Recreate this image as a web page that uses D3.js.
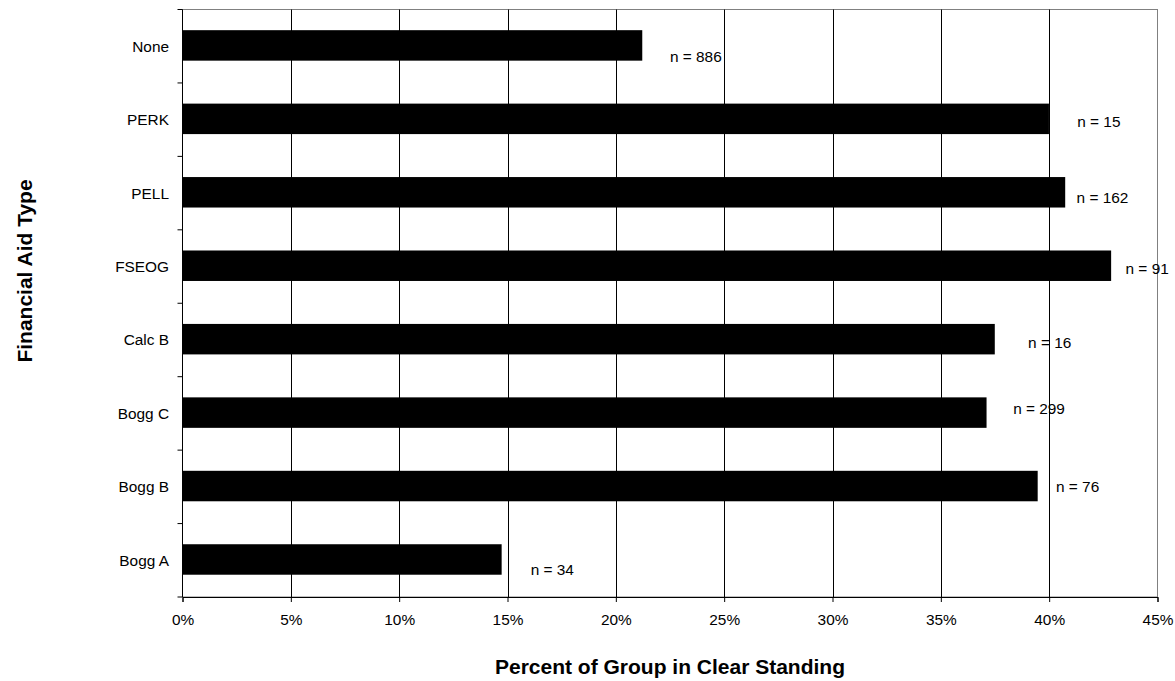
<!DOCTYPE html>
<html>
<head>
<meta charset="utf-8">
<script src="https://cdn.jsdelivr.net/npm/d3@7"></script>
<style>
  html, body { margin: 0; padding: 0; background: #fff; }
  svg { display: block; font-family: "Liberation Sans", Arial, sans-serif; }
</style>
</head>
<body>
<svg id="chart" width="1175" height="681"></svg>
<script>
// ---- data ----
const categories = ["None", "PERK", "PELL", "FSEOG", "Calc B", "Bogg C", "Bogg B", "Bogg A"];
const values = [0.2122, 0.3999, 0.4074, 0.4286, 0.3749, 0.3711, 0.3947, 0.1473];
const labels = ["n = 886", "n = 15", "n = 162", "n = 91", "n = 16", "n = 299", "n = 76", "n = 34"];
const xTicks = [0, 0.05, 0.10, 0.15, 0.20, 0.25, 0.30, 0.35, 0.40, 0.45];
const xTitle = "Percent of Group in Clear Standing";
const yTitle = "Financial Aid Type";

// ---- layout (label nudges, px) ----
const labelDx = [27.7, 28.3, 11.4, 14.4, 33.3, 26.6, 18.3, 29];
const labelDy = [10, 1.6, 4.5, 2.2, 2.5, -4.9, -0.3, 9.7];

const svg = d3.select("#chart");
const L = 182.5, R = 1157.5, T = 9.5, B = 597;
const fs = 15.4;

const x = d3.scaleLinear().domain([0, 0.45]).range([L, R]);
const y = d3.scaleBand().domain(categories).range([T, B]).padding(0);
const barH = y.bandwidth() * 0.415;

// plot border
svg.append("rect").attr("x", L).attr("y", T).attr("width", R - L).attr("height", B - T)
  .attr("fill", "none").attr("stroke", "#808080").attr("stroke-width", 1);

// grid lines
svg.append("g").selectAll("line").data(xTicks.slice(1, -1)).join("line")
  .attr("x1", d => Math.round(x(d)) + 0.5).attr("x2", d => Math.round(x(d)) + 0.5)
  .attr("y1", T).attr("y2", B)
  .attr("stroke", "#000").attr("stroke-width", 1);

// bars
svg.append("g").selectAll("rect").data(categories).join("rect")
  .attr("x", L)
  .attr("y", (d) => y(d) + y.bandwidth() / 2 - barH / 2 - 0.8)
  .attr("width", (d, i) => x(values[i]) - L)
  .attr("height", barH)
  .attr("fill", "#000");

// x axis
const xAxis = d3.axisBottom(x).tickValues(xTicks).tickFormat(d3.format(".0%")).tickSize(5).tickPadding(12);
const gx = svg.append("g").attr("transform", `translate(0,${B})`).call(xAxis);
gx.select(".domain").attr("stroke", "#000");
gx.selectAll(".tick line").attr("stroke", "#000");
gx.selectAll("text").attr("font-size", fs).attr("font-family", "Liberation Sans, Arial, sans-serif").attr("fill", "#000");

// y axis: ticks at band boundaries
const boundaries = d3.range(categories.length + 1).map(i => T + i * y.bandwidth());
svg.append("line").attr("x1", L).attr("x2", L).attr("y1", T).attr("y2", B).attr("stroke", "#000");
svg.append("g").selectAll("line").data(boundaries).join("line")
  .attr("x1", L - 5).attr("x2", L).attr("y1", d => d).attr("y2", d => d)
  .attr("stroke", "#000");
svg.append("g").selectAll("text").data(categories).join("text")
  .attr("x", 169).attr("y", d => y(d) + y.bandwidth() / 2)
  .attr("text-anchor", "end").attr("dominant-baseline", "central")
  .attr("font-size", fs).attr("fill", "#000")
  .text(d => d);

// value labels
svg.append("g").selectAll("text").data(categories).join("text")
  .attr("x", (d, i) => x(values[i]) + labelDx[i])
  .attr("y", (d, i) => y(d) + y.bandwidth() / 2 + labelDy[i])
  .attr("dominant-baseline", "central")
  .attr("font-size", fs).attr("fill", "#000")
  .text((d, i) => labels[i]);

// axis titles
svg.append("text").attr("x", (L + R) / 2).attr("y", 666)
  .attr("text-anchor", "middle").attr("dominant-baseline", "central")
  .attr("font-size", 21).attr("font-weight", "bold").attr("fill", "#000")
  .text(xTitle);
svg.append("text").attr("transform", `translate(24,271) rotate(-90)`)
  .attr("text-anchor", "middle").attr("dominant-baseline", "central")
  .attr("font-size", 21).attr("font-weight", "bold").attr("fill", "#000")
  .text(yTitle);
</script>
</body>
</html>
